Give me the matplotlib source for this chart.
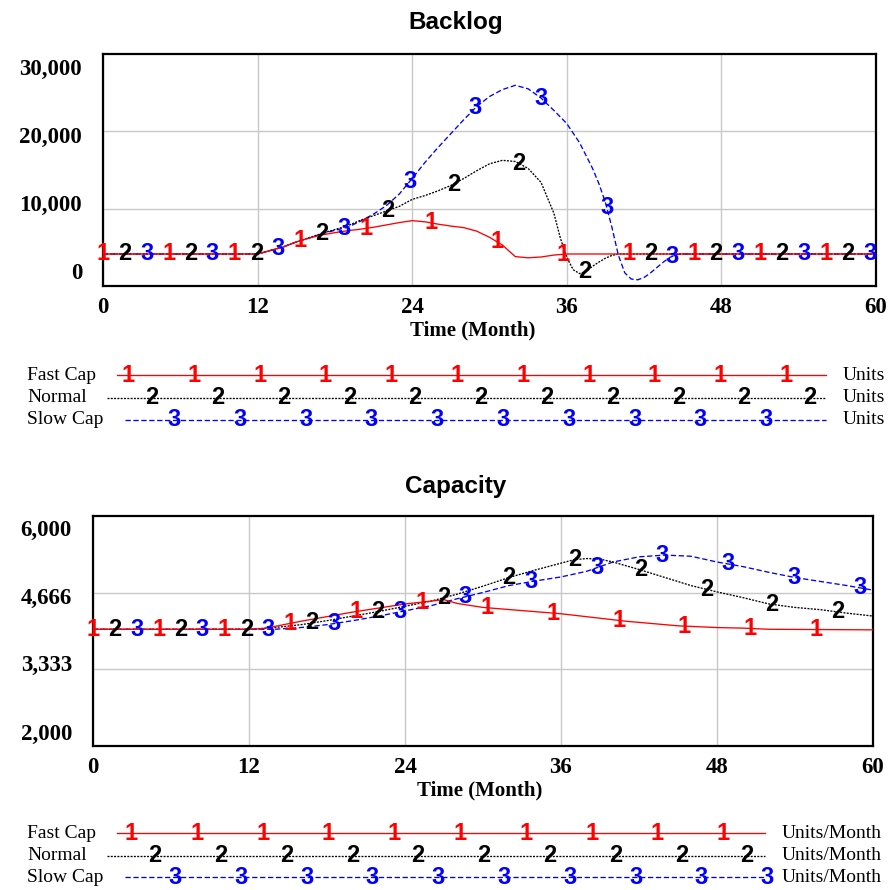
import numpy as np
import matplotlib.pyplot as plt

# ---- Backlog (Units) ----
bk_fast_t = [0, 12, 13, 14, 15, 16, 17, 18, 19, 20, 21, 22, 23, 24, 25, 26, 27, 28, 29, 30,
             31, 32, 33, 34, 35, 36, 60]
bk_fast = [4140, 4140, 4600, 5050, 5700, 6200, 6600, 6900, 7150, 7350, 7600, 7900, 8200, 8450,
           8300, 8000, 7750, 7550, 7100, 6300, 5300, 3800, 3650, 3750, 4000, 4140, 4140]

bk_norm_t = [0, 12, 13, 14, 15, 16, 17, 18, 19, 20, 21, 22, 23, 24, 25, 26, 27, 28, 29, 30,
             31, 32, 33, 34, 35, 35.5, 36, 36.5, 37, 37.5, 38, 38.5, 39, 39.5, 40, 60]
bk_norm = [4140, 4140, 4600, 5050, 5700, 6250, 6800, 7300, 7800, 8500, 9100, 9700, 10300, 11200,
           11700, 12300, 13000, 13900, 14900, 15800, 16250, 16100, 15200, 13400, 9400, 6200,
           3700, 2100, 1600, 1900, 2550, 3100, 3600, 3950, 4140, 4140]

bk_slow_t = [0, 12, 13, 14, 15, 16, 17, 18, 19, 20, 21, 22, 23, 24, 25, 26, 27, 28, 29, 30,
             31, 32, 33, 34, 35, 36, 37, 38, 38.5, 39, 39.5, 40, 40.5, 41, 41.5, 42, 42.5, 43,
             43.5, 44, 44.5, 45, 60]
bk_slow = [4140, 4140, 4600, 5050, 5700, 6200, 6750, 7200, 7600, 8400, 9300, 10400, 11900, 13900,
           16000, 17900, 19700, 21500, 23200, 24500, 25400, 25950, 25500, 24300, 22700, 21000,
           18500, 15200, 13200, 10800, 7600, 4000, 1700, 900, 800, 1100, 1700, 2400, 3100, 3700,
           4050, 4140, 4140]

# ---- Capacity (Units/Month) ----
cap_fast_t = [0, 12, 13, 14, 16, 18, 20, 22, 24, 26, 27, 28, 30, 36, 41, 45, 48, 50, 52, 60]
cap_fast = [4030, 4030, 4040, 4080, 4170, 4250, 4330, 4400, 4470, 4520, 4545, 4480, 4410, 4300,
            4170, 4090, 4060, 4050, 4030, 4020]

cap_norm_t = [0, 12, 14, 16, 18, 20, 22, 24, 26, 28, 30, 32, 34, 36, 37, 38, 39, 40, 42, 44, 46,
              48, 50, 52, 54, 56, 58, 60]
cap_norm = [4030, 4030, 4060, 4110, 4180, 4260, 4340, 4430, 4520, 4640, 4780, 4930, 5060, 5180,
            5240, 5260, 5250, 5200, 5070, 4930, 4790, 4680, 4580, 4470, 4410, 4370, 4310, 4260]

cap_slow_t = [0, 12, 14, 16, 18, 20, 22, 24, 26, 27, 28, 30, 32, 34, 36, 38, 40, 42, 44, 46, 48,
              50, 52, 54, 56, 58, 60]
cap_slow = [4030, 4030, 4030, 4060, 4110, 4180, 4260, 4350, 4440, 4500, 4560, 4670, 4790, 4870,
            4940, 5040, 5200, 5290, 5320, 5300, 5200, 5120, 5020, 4930, 4860, 4790, 4710]

names = ["Fast Cap", "Normal", "Slow Cap"]
nums = ["1", "2", "3"]
colors = ["#ff0000", "#000000", "#0000ff"]
styles = ["-", (0, (1.5, 1.0)), (0, (4, 2))]

x_ticks = [0, 12, 24, 36, 48, 60]
bk_labels = ["0", "10,000", "20,000", "30,000"]
cap_labels = ["2,000", "3,333", "4,666", "6,000"]

W = 890
fig = plt.figure(figsize=(8.9, 8.9), dpi=100)

serif = "Liberation Serif"
sans = "Liberation Sans"
NUM_SIZE = 17


def panel(rect, series, ylim, grid_y, ylabels, label_fracs, step):
    ax = fig.add_axes(rect)
    for k in (2, 1, 0):
        t, v = series[k]
        ax.plot(t, v, color=colors[k], ls=styles[k], lw=0.95, zorder=2 + (2 - k))
    # numbered markers placed along each curve
    for i in range(36):
        k = i % 3
        m = i * step
        t, v = series[k]
        ax.text(m, np.interp(m, t, v), nums[k], color=colors[k], fontsize=NUM_SIZE,
                fontweight="bold", family=sans, ha="center", va="center",
                zorder=6, clip_on=False)
    ax.set_xlim(0, 60)
    ax.set_ylim(*ylim)
    ax.set_xticks(x_ticks)
    ax.set_xticklabels([str(x) for x in x_ticks], family=serif, fontweight="bold", fontsize=16.5)
    ax.set_yticks(grid_y)
    ax.set_yticklabels([])
    ax.tick_params(length=0, pad=8)
    ax.grid(True, color="#c8c8c8", lw=1.0)
    for s in ax.spines.values():
        s.set_linewidth(1.6)
    for lab, f in zip(ylabels, label_fracs):
        ax.text(-0.027, f, lab, transform=ax.transAxes, ha="right", va="center",
                family=serif, fontweight="bold", fontsize=16.5)
    return ax


panel([103 / W, 1 - 286 / W, 773 / W, 232 / W],
      [(bk_fast_t, bk_fast), (bk_norm_t, bk_norm), (bk_slow_t, bk_slow)],
      (0, 30000), [10000, 20000], bk_labels, [0.056, 0.349, 0.642, 0.935], 1.70)

panel([93 / W, 1 - 746 / W, 780 / W, 230 / W],
      [(cap_fast_t, cap_fast), (cap_norm_t, cap_norm), (cap_slow_t, cap_slow)],
      (2000, 6000), [3333.3, 4666.7], cap_labels, [0.048, 0.350, 0.641, 0.935], 1.685)

# titles and axis labels
fig.text(456 / W, 1 - 22 / W, "Backlog", ha="center", va="center", family=sans,
         fontweight="bold", fontsize=17.5)
fig.text(456 / W, 1 - 486 / W, "Capacity", ha="center", va="center", family=sans,
         fontweight="bold", fontsize=17.5)
fig.text(473 / W, 1 - 330 / W, "Time (Month)", ha="center", va="center", family=serif,
         fontweight="bold", fontsize=15)
fig.text(480 / W, 1 - 790 / W, "Time (Month)", ha="center", va="center", family=serif,
         fontweight="bold", fontsize=15)

# legends in pixel space
lax = fig.add_axes([0, 0, 1, 1], zorder=-1)
lax.set_xlim(0, W)
lax.set_ylim(W, 0)
lax.axis("off")


def legend(rows, x_end, starts, counts, unit, unit_x):
    line_x0 = [117, 107, 125]
    for k in range(3):
        y = rows[k]
        lax.text(27, y, names[k], family=serif, fontsize=14, ha="left", va="center")
        lax.plot([line_x0[k], x_end], [y, y], color=colors[k], ls=styles[k], lw=0.95)
        for j in range(counts[k]):
            lax.text(starts[k] + j * 65.8, y, nums[k], color=colors[k], fontsize=NUM_SIZE,
                     fontweight="bold", family=sans, ha="center", va="center")
        lax.text(unit_x, y, unit, family=serif, fontsize=14, ha="left", va="center")


legend([375, 398, 420], 826, [128, 152, 174], [11, 11, 10], "Units", 843)
legend([833, 856, 877], 765, [131, 155, 175], [10, 10, 10], "Units/Month", 782)

fig.savefig("out.png", dpi=100)
